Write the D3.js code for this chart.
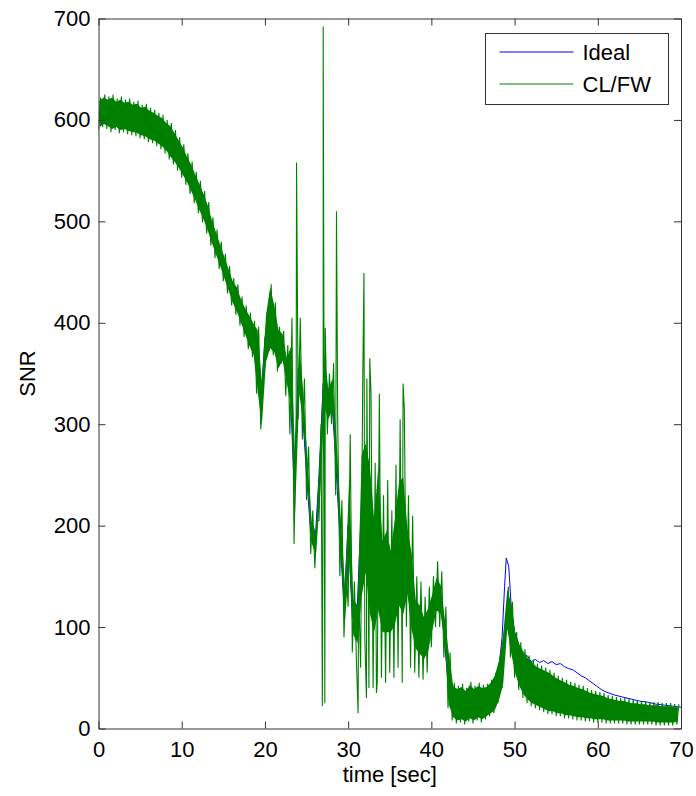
<!DOCTYPE html>
<html>
<head>
<meta charset="utf-8">
<script src="https://cdn.jsdelivr.net/npm/d3@7"></script>
<style>
  body { margin: 0; background: #fff; }
  text { font-family: "Liberation Sans", Arial, Helvetica, sans-serif; }
</style>
</head>
<body>
<div id="chart"></div>
<script>
var width = 696, height = 796;

var clwLo = [590,593,591,588,590,587,588,586,585,584,582,581,578,577,574,571,567,561,556,550,
  543,536,527,518,508,499,488,476,464,453,441,429,417,408,397,386,374,366,330,295,
  358,372,368,352,360,328,290,182,305,285,225,172,158,205,290,290,300,230,150,90,
  120,75,65,60,90,40,40,45,50,45,55,50,60,45,100,60,55,50,48,55,
  80,100,100,70,20,8,5,6,4,7,5,8,6,9,12,15,25,40,95,70,
  50,38,30,25,22,20,18,16,14,14,12,12,10,10,9,8,8,7,7,6,
  6,6,5,5,5,5,5,4,4,4,4,4,4,4,3,3,3,3,3,4];
var clwHi = [622,625,623,625,621,623,620,621,618,619,615,616,612,610,607,605,600,597,590,583,
  576,567,559,549,540,530,519,504,492,480,468,456,444,438,426,417,410,402,396,345,
  410,438,420,396,392,378,405,300,405,345,278,215,205,300,395,350,360,300,225,155,
  290,145,140,340,345,330,262,330,230,245,215,260,305,315,230,210,150,145,130,140,
  150,165,155,120,75,45,42,44,40,46,42,45,43,44,48,55,70,95,140,125,
  95,85,78,72,68,64,62,60,58,55,52,50,48,46,45,43,42,40,38,37,
  36,35,33,32,31,30,30,29,28,28,27,27,26,26,26,25,25,25,24,24];

// isolated spikes of the CL/FW trace
var spikeT = [23.8, 26.9, 27.0, 27.2, 28.6, 31.2, 31.9, 32.2, 32.6, 33.4, 36.6];
var spikeV = [558, 22, 692, 25, 510, 15, 449, 30, 365, 35, 340];

// Ideal trace
var idealT = [0,1,2,3,4,5,6,7,8,9,10,11,12,13,14,15,16,17,18,
  19,19.5,20,20.5,21,21.5,22,22.5,23,23.5,24,24.5,25,25.5,26,26.5,27,27.5,28,28.5,29,29.5,
  30,30.5,31,31.5,32,32.5,33,33.5,34,34.5,35,35.5,36,36.5,37,37.5,38,38.5,39,39.5,40,40.5,41,41.5,42,
  43,44,45,46,47,47.5,48,48.5,48.8,49,49.3,49.6,50,50.3,50.6,
  51,51.5,52,52.5,53,53.5,54,54.5,55,55.5,56,56.5,57,57.5,58,58.5,59,59.5,60,60.5,61,62,63,64,65,66,67,68,69,70];
var idealV = [605,607,606,604,602,599,595,590,584,573,560,543,524,503,478,455,430,411,392,
  360,320,385,405,394,375,376,352,345,240,355,315,250,193,180,250,340,320,330,265,190,122,
  200,110,100,200,220,185,150,185,140,145,135,155,180,180,165,135,100,98,90,98,115,132,128,95,45,
  22,22,23,25,30,36,50,90,140,168,160,120,95,88,80,
  70,72,66,68,65,67,64,66,63,64,61,59,58,55,52,50,47,44,41,38,36,33,31,29,27,26,24,23,22,21];

var xTicks = [0,10,20,30,40,50,60,70];
var yTicks = [0,100,200,300,400,500,600,700];
var seriesNames = ["Ideal", "CL/FW"];
var seriesColors = ["#0000ff", "#008000"];

var margin = {left: 98.5, right: 15, top: 18.5, bottom: 67.5};
var x = d3.scaleLinear().domain([0, 70]).range([margin.left, width - margin.right]);
var y = d3.scaleLinear().domain([0, 700]).range([height - margin.bottom, margin.top]);

var svg = d3.select("#chart").append("svg")
  .attr("width", width)
  .attr("height", height);

svg.append("defs").append("clipPath").attr("id", "clip")
  .append("rect")
  .attr("x", x(0)).attr("y", y(700))
  .attr("width", x(70) - x(0)).attr("height", y(0) - y(700));

// build the CL/FW points: zigzag lo -> hi inside each half second, spikes merged in by time
var clwPts = [];
clwLo.forEach(function (lo, i) {
  var t = i * 0.5;
  clwPts.push([t, lo]);
  clwPts.push([t + 0.25, clwHi[i]]);
});
spikeT.forEach(function (t, i) { clwPts.push([t, spikeV[i]]); });
clwPts.sort(function (a, b) { return a[0] - b[0]; });

var idealPts = idealT.map(function (t, i) { return [t, idealV[i]]; });

// solid core of the noisy band; in the 22-42 s burst only the inner part is dense
var core = clwLo.map(function (lo, i) {
  var t = i * 0.5, hi = clwHi[i];
  var inset = (t >= 22.5 && t < 42) ? 0.25 * (hi - lo) : 3;
  return [lo + inset, hi - inset];
});

var line = d3.line().x(function (d) { return x(d[0]); }).y(function (d) { return y(d[1]); });
var band = d3.area()
  .x(function (d, i) { return x(i * 0.5 + 0.125); })
  .y0(function (d) { return y(d[0]); })
  .y1(function (d) { return y(d[1]); });

var plot = svg.append("g").attr("clip-path", "url(#clip)");
plot.append("path").datum(idealPts)
  .attr("fill", "none").attr("stroke", seriesColors[0]).attr("stroke-width", 1)
  .attr("d", line);
plot.append("path").datum(core)
  .attr("fill", seriesColors[1]).attr("stroke", "none")
  .attr("d", band);
plot.append("path").datum(clwPts)
  .attr("fill", "none").attr("stroke", seriesColors[1]).attr("stroke-width", 1.1)
  .attr("d", line);

// axes, MATLAB style box with inward ticks on all sides
function styleAxis(g) {
  g.select(".domain").attr("stroke", "#333");
  g.selectAll(".tick line").attr("stroke", "#333");
  g.selectAll("text").attr("font-size", 22).attr("fill", "#000");
}
svg.append("g").attr("transform", "translate(0," + y(0) + ")")
  .call(d3.axisBottom(x).tickValues(xTicks).tickSizeInner(-7).tickSizeOuter(0).tickPadding(13))
  .call(styleAxis);
svg.append("g").attr("transform", "translate(0," + y(700) + ")")
  .call(d3.axisTop(x).tickValues(xTicks).tickSizeInner(-7).tickSizeOuter(0).tickFormat(""))
  .call(styleAxis);
svg.append("g").attr("transform", "translate(" + x(0) + ",0)")
  .call(d3.axisLeft(y).tickValues(yTicks).tickSizeInner(-7).tickSizeOuter(0).tickPadding(8))
  .call(styleAxis);
svg.append("g").attr("transform", "translate(" + x(70) + ",0)")
  .call(d3.axisRight(y).tickValues(yTicks).tickSizeInner(-7).tickSizeOuter(0).tickFormat(""))
  .call(styleAxis);

svg.append("text")
  .attr("x", (x(0) + x(70)) / 2).attr("y", 782)
  .attr("text-anchor", "middle").attr("font-size", 22)
  .text("time [sec]");
svg.append("text")
  .attr("transform", "translate(35," + (y(0) + y(700)) / 2 + ") rotate(-90)")
  .attr("text-anchor", "middle").attr("font-size", 22)
  .text("SNR");

// legend
var legend = svg.append("g").attr("transform", "translate(485.5,33.5)");
legend.append("rect").attr("width", 183).attr("height", 71)
  .attr("fill", "#fff").attr("stroke", "#333");
seriesNames.forEach(function (name, i) {
  var ly = 18.5 + i * 32;
  legend.append("line").attr("x1", 14).attr("x2", 88).attr("y1", ly).attr("y2", ly)
    .attr("stroke", seriesColors[i]).attr("stroke-width", 1);
  legend.append("text").attr("x", 97).attr("y", ly + 8).attr("font-size", 22).text(name);
});
</script>
</body>
</html>
